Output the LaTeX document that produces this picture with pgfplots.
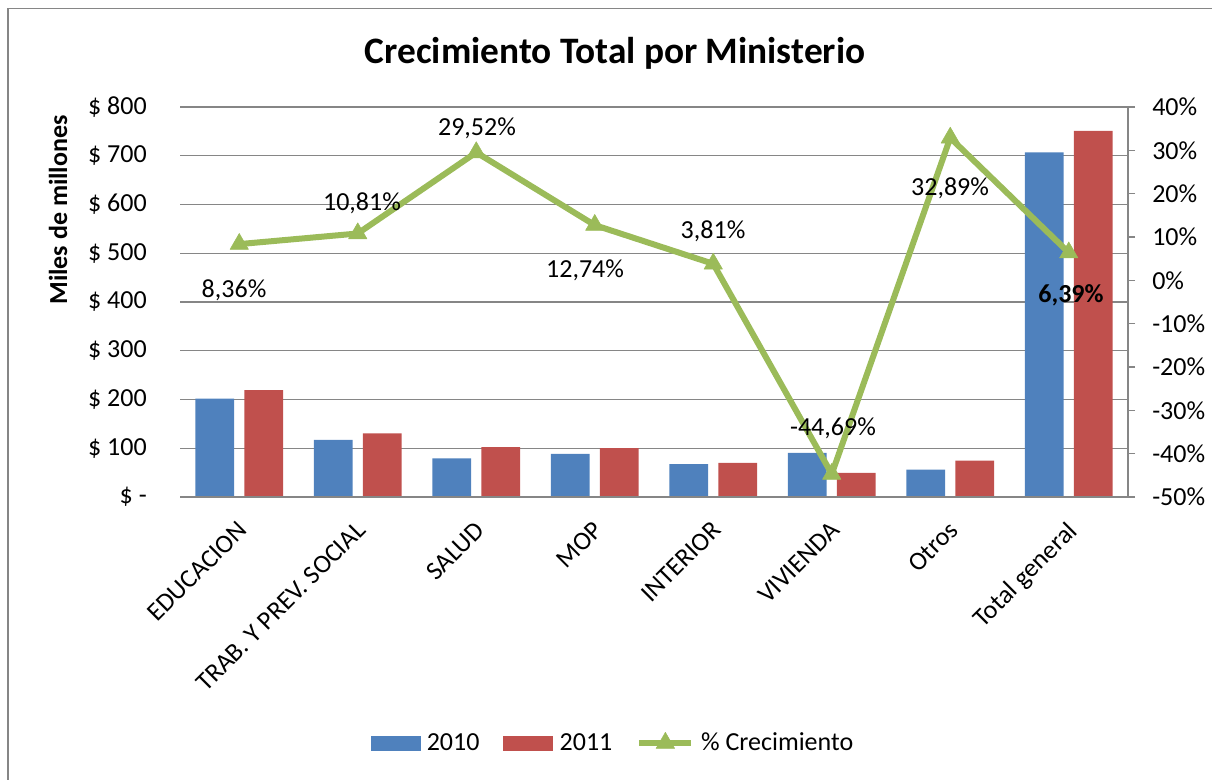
\documentclass[border=0pt]{standalone}
\usepackage{fontspec}
\setmainfont{Carlito}
\usepackage{pgfplots}
\usepackage{pgfplotstable}
\pgfplotsset{compat=1.18}
\definecolor{c2010}{RGB}{79,129,189}
\definecolor{c2011}{RGB}{192,80,77}
\definecolor{cgrow}{RGB}{155,187,89}
\definecolor{gridgray}{RGB}{134,134,134}
\newcommand\lbl{\fontsize{19.5}{23}\selectfont}
\pgfplotsset{
  tri legend/.style={legend image code/.code={%
    \draw[mark repeat=2, mark phase=2, ##1] plot coordinates {(0pt,0pt) (19.5pt,0pt) (39pt,0pt)};}},
}

% miles de millones
\pgfplotstableread{
x y2010 y2011
0 202 219
1 117 130.5
2 79 102.3
3 88.7 100.2
4 67.2 70.1
5 90.7 49.5
6 56.3 74.8
7 707 751
}\montos

% % crecimiento
\pgfplotstableread{
x pct
0 8.36
1 10.81
2 29.52
3 12.74
4 3.81
5 -44.69
6 32.89
7 6.39
}\crec

% label positions (same axis units)
\pgfplotstableread{
x y lbl
-0.044 -2.23 8,36
1.036 17.85 10,81
2.006 35.16 29,52
2.918 2.39 12,74
3.998 11.39 3,81
5.010 -34.08 -44,69
5.998 21.31 32,89
}\etiq

\begin{document}
\begin{tikzpicture}[x=1pt,y=1pt]
\path[use as bounding box] (0,0) rectangle (909,-585);
\draw[gridgray, line width=1.1pt] (6,-585) -- (6,-6.5) -- (909,-6.5);

\begin{axis}[
  scale only axis, width=711pt, height=292.5pt,
  at={(135pt,-372.75pt)}, anchor=south west,
  xmin=-0.5, xmax=7.5, ymin=0, ymax=800,
  axis line style={draw=none}, major tick style={draw=none},
  ymajorgrids, grid style={gridgray, line width=1pt},
  ytick={0,100,...,800},
  yticklabels={\$ -\hspace{9pt},\$ 100,\$ 200,\$ 300,\$ 400,\$ 500,\$ 600,\$ 700,\$ 800},
  yticklabel style={font=\lbl, anchor=east, inner sep=0pt, xshift=-24.75pt},
  xtick={0,...,7},
  xticklabels={EDUCACION,TRAB. Y PREV. SOCIAL,SALUD,MOP,INTERIOR,VIVIENDA,Otros,Total general},
  xticklabel style={font=\lbl, yshift=-17pt, xshift=-2pt, rotate=45, anchor=north east, inner sep=0pt},
  ylabel={Miles de millones},
  ylabel style={font=\lbl\bfseries, at={(axis description cs:-0.1287,0.736)}, anchor=center},
  title={Crecimiento Total por Ministerio},
  title style={font=\fontsize{28}{32}\selectfont\bfseries, at={(axis description cs:0.4589,1.117)}, anchor=center},
]
\addplot[ybar, bar width=0.327, bar shift=-0.2075, fill=c2010, draw=none] table[x=x,y=y2010]{\montos};
\addplot[ybar, bar width=0.327, bar shift=0.2075, fill=c2011, draw=none] table[x=x,y=y2011]{\montos};
\end{axis}

\begin{axis}[
  scale only axis, width=711pt, height=292.5pt,
  at={(135pt,-372.75pt)}, anchor=south west,
  xmin=-0.5, xmax=7.5, ymin=-50, ymax=40,
  axis x line=bottom, axis y line=right,
  axis line style={gridgray, line width=1.3pt, -},
  xtick=\empty,
  ytick={-50,-40,...,40},
  yticklabels={-50\%,-40\%,-30\%,-20\%,-10\%,0\%,10\%,20\%,30\%,40\%},
  yticklabel pos=right,
  tick align=outside, major tick length=5.25pt,
  major tick style={gridgray, line width=1pt},
  yticklabel style={font=\lbl, anchor=west, inner sep=0pt, xshift=12.75pt},
  clip=false,
  legend columns=3,
  legend style={at={(0.457,-0.6308)}, anchor=center, draw=none, fill=none,
    font=\lbl, inner sep=0pt,
    /tikz/every odd column/.append style={column sep=3pt},
    /tikz/every even column/.append style={column sep=16pt}},
]
\addlegendimage{legend image code/.code={\fill[c2010] (0pt,-5.25pt) rectangle (36.75pt,5.25pt);}}
\addlegendentry{2010}
\addlegendimage{legend image code/.code={\fill[c2011] (0pt,-5.25pt) rectangle (36.75pt,5.25pt);}}
\addlegendentry{2011}
\addplot[cgrow, line width=4.5pt, line join=round,
  mark=triangle*, mark size=8pt, mark options={solid, line width=0.4pt},
  tri legend] table[x=x, y=pct]{\crec};
\addlegendentry{\% Crecimiento}
\addplot[draw=none, mark=none, forget plot, point meta=explicit symbolic,
  nodes near coords={\pgfplotspointmeta\%},
  nodes near coords style={font=\lbl, text=black, anchor=center}]
  table[x=x, y=y, meta=lbl]{\etiq};
\addplot[draw=none, mark=none, forget plot, point meta=explicit symbolic,
  nodes near coords={\pgfplotspointmeta\%},
  nodes near coords style={font=\lbl\bfseries, text=black, anchor=center}]
  coordinates {(7.019,-3.38) [6,39]};
\end{axis}
\end{tikzpicture}
\end{document}
